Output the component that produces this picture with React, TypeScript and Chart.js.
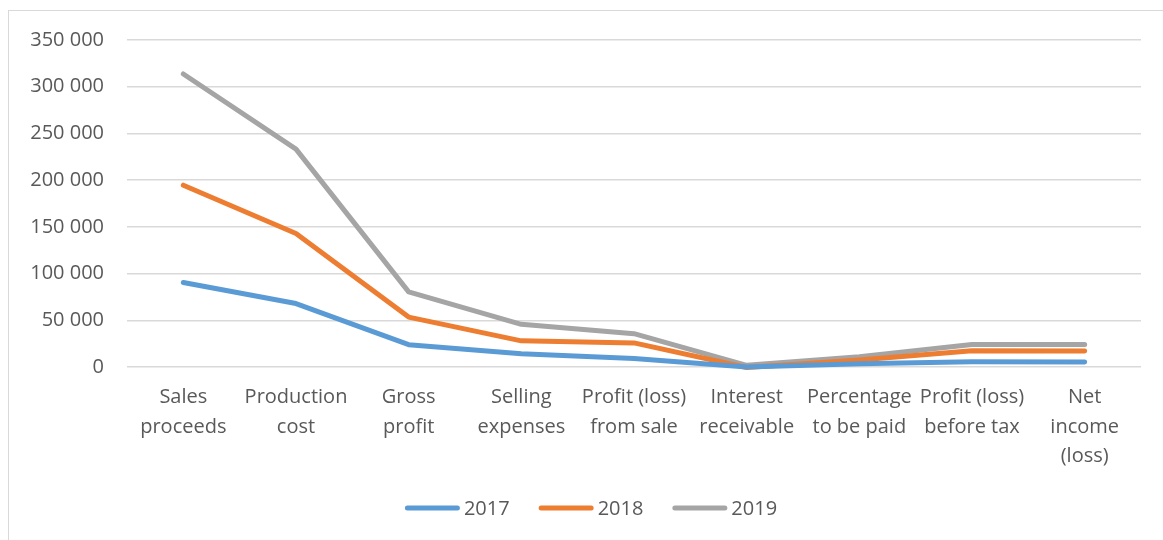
import React, { useEffect, useRef } from "react";
import { Chart, registerables } from "chart.js";

Chart.register(...registerables);

const categories: string[][] = [
  ["Sales", "proceeds"],
  ["Production", "cost"],
  ["Gross", "profit"],
  ["Selling", "expenses"],
  ["Profit (loss)", "from sale"],
  ["Interest", "receivable"],
  ["Percentage", "to be paid"],
  ["Profit (loss)", "before tax"],
  ["Net", "income", "(loss)"],
];

const values2017 = [90400, 67900, 23900, 14300, 9000, 0, 3500, 5500, 5300];
const values2018 = [194600, 142900, 53400, 28000, 25800, -500, 7500, 17500, 17200];
const values2019 = [313600, 233200, 80400, 45700, 35700, 1800, 11000, 24000, 24000];

const seriesLabels = ["2017", "2018", "2019"];
const seriesColors = ["#5B9BD5", "#ED7D31", "#A5A5A5"];

const yMin = 0;
const yMax = 350000;
const yStep = 50000;

const FONT = "'Open Sans', 'DejaVu Sans', sans-serif";
const TEXT_COLOR = "#595959";

const fmt = (v: number) => String(v).replace(/\B(?=(\d{3})+(?!\d))/g, " ");

const legendPlugin = {
  id: "customLegend",
  afterDraw(chart: any) {
    const ctx = chart.ctx as CanvasRenderingContext2D;
    ctx.save();
    ctx.font = `20px ${FONT}`;
    const boxW = 55;
    const gap = 4;
    const spacing = 29;
    const items = chart.data.datasets.map((ds: any) => ({
      label: ds.label as string,
      color: ds.borderColor as string,
      w: boxW + gap + ctx.measureText(ds.label).width,
    }));
    const total =
      items.reduce((a: number, b: any) => a + b.w, 0) + spacing * (items.length - 1);
    let x = 582 - total / 2;
    const y = 503;
    items.forEach((it: any) => {
      ctx.strokeStyle = it.color;
      ctx.lineWidth = 5;
      ctx.lineCap = "round";
      ctx.beginPath();
      ctx.moveTo(x + 2.5, y);
      ctx.lineTo(x + boxW - 2.5, y);
      ctx.stroke();
      ctx.fillStyle = TEXT_COLOR;
      ctx.textBaseline = "middle";
      ctx.textAlign = "left";
      ctx.fillText(it.label, x + boxW + gap, y + 1);
      x += it.w + spacing;
    });
    ctx.restore();
  },
};

export default function App() {
  const canvasRef = useRef<HTMLCanvasElement | null>(null);

  useEffect(() => {
    if (!canvasRef.current) return;
    const series = [values2017, values2018, values2019];
    const chart = new Chart(canvasRef.current, {
      type: "line",
      data: {
        labels: categories,
        datasets: series.map((vals, i) => ({
          label: seriesLabels[i],
          data: vals,
          borderColor: seriesColors[i],
          backgroundColor: seriesColors[i],
          borderWidth: 5,
          pointRadius: 0,
          pointHoverRadius: 0,
          tension: 0,
          fill: false,
          borderCapStyle: "round",
          borderJoinStyle: "round",
          clip: false,
        })),
      },
      options: {
        responsive: false,
        animation: false,
        layout: { padding: { top: 19, right: 22, left: 0, bottom: 0 } },
        plugins: {
          legend: { display: false },
          tooltip: { enabled: false },
          title: { display: false },
        },
        scales: {
          x: {
            offset: true,
            grid: { display: false, drawTicks: false, offset: true },
            border: { display: false },
            ticks: {
              color: TEXT_COLOR,
              font: { family: FONT, size: 20, lineHeight: 1.475 },
              maxRotation: 0,
              minRotation: 0,
              autoSkip: false,
              padding: 16,
            },
            afterFit: (s: any) => {
              s.height = 173;
            },
          },
          y: {
            min: yMin,
            max: yMax,
            ticks: {
              stepSize: yStep,
              color: TEXT_COLOR,
              font: { family: FONT, size: 20 },
              padding: 23,
              callback: (v: any) => fmt(Number(v)),
            },
            grid: { color: "#d9d9d9", lineWidth: 1.5, drawTicks: false },
            border: { display: false },
            afterFit: (s: any) => {
              s.width = 118;
            },
          },
        },
      },
      plugins: [legendPlugin],
    } as any);
    return () => chart.destroy();
  }, []);

  return (
    <div
      style={{
        position: "fixed",
        left: 0,
        top: 0,
        width: 1163,
        height: 540,
        overflow: "hidden",
        background: "#fff",
      }}
    >
      <div
        style={{
          position: "absolute",
          left: 8,
          top: 10,
          width: 1170,
          height: 560,
          border: "1px solid #d9d9d9",
          boxSizing: "border-box",
        }}
      />
      <canvas
        ref={canvasRef}
        width={1154}
        height={535}
        style={{ position: "absolute", left: 9, top: 5, width: 1154, height: 535 }}
      />
    </div>
  );
}
